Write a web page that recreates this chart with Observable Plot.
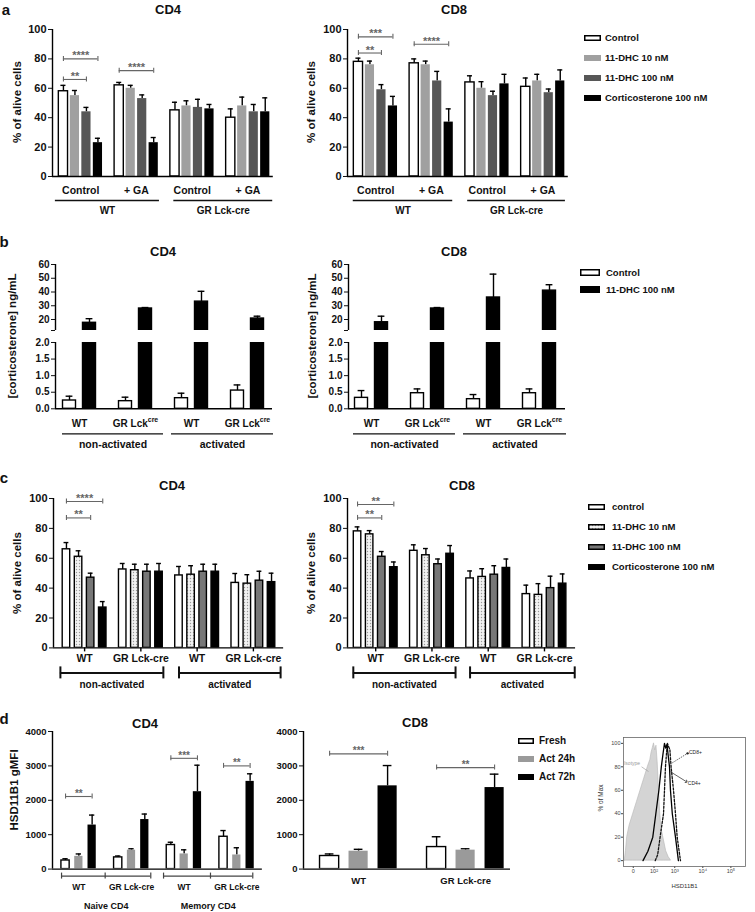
<!DOCTYPE html>
<html><head><meta charset="utf-8">
<script src="https://cdn.jsdelivr.net/npm/d3@7"></script>
<script src="https://cdn.jsdelivr.net/npm/@observablehq/plot@0.6"></script>
<style>
body{margin:0;background:#fff;}
#fig{position:relative;width:755px;height:912px;overflow:hidden;font-family:"Liberation Sans",Arial,Helvetica,sans-serif;color:#111;}
.t{position:absolute;white-space:nowrap;line-height:1;}
</style></head><body>
<svg width="0" height="0" style="position:absolute"><defs><pattern id="dots" width="3" height="3" patternUnits="userSpaceOnUse"><rect width="3" height="3" fill="#f2f2f2"/><circle cx="1.5" cy="1.5" r="0.7" fill="#999"/></pattern></defs></svg>
<div id="fig"></div>
<script>
// ---------- Panel a ----------
const aSeries = ["Control","11-DHC 10 nM","11-DHC 100 nM","Corticosterone 100 nM"];
const aTreat = ["Control","+ GA","Control","+ GA"];
const aGeno = ["WT","GR Lck-cre"];
const aCD4 = [[58,55,44,23],[62,60,53,23],[45,48,47,46],[40,48,44,44]];
const aCD4err = [[4,3.5,3,3],[2,2,2.5,3.5],[5.5,3.5,5.5,3],[6,6,5,9.5]];
const aCD8 = [[78,76,59,48],[77,76,65,37],[64,60,55,63],[61,65,57,65]];
const aCD8err = [[2.5,2.5,3.5,6.5],[3,2.5,6.5,9],[4.5,4.5,3,6.5],[6,4.5,2.5,7.5]];
const aCD4sig = [[0,0,2,66,"**"],[0,0,3,80,"****"],[1,0,3,72,"****"]];
const aCD8sig = [[0,0,2,84,"**"],[0,0,3,95,"***"],[1,0,3,90,"****"]];
const pctTicks = [0,20,40,60,80,100];

// ---------- Panel b ----------
const bSeries = ["Control","11-DHC 100 nM"];
const bGeno = [["WT",""],["GR Lck","cre"],["WT",""],["GR Lck","cre"]];
const bState = ["non-activated","activated"];
const bCD4 = [[0.25,17.6],[0.23,28],[0.32,33],[0.55,20.7]];
const bCD4err = [[0.13,3],[0.12,0.7],[0.15,7.5],[0.17,1.7]];
const bCD8 = [[0.33,18],[0.47,28],[0.29,36],[0.47,41]];
const bCD8err = [[0.22,4.4],[0.13,0.7],[0.14,17],[0.13,4.3]];
const bTopTicks = [20,30,40,50,60];
const bLowTicks = [0,0.5,1,1.5,2];

// ---------- Panel c ----------
const cSeries = ["control","11-DHC 10 nM","11-DHC 100 nM","Corticosterone 100 nM"];
const cGeno = ["WT","GR Lck-cre","WT","GR Lck-cre"];
const cState = ["non-activated","activated"];
const cCD4 = [[66,61,47,27],[52.5,52,51,51],[48.5,49,51,51],[43.5,43,45,44]];
const cCD4err = [[4.5,4,3,4],[4,4,5,5.5],[6,6,5,5],[6.3,6,6.3,6]];
const cCD8 = [[78,76,61,54],[65,62,56,63],[46.5,47.5,49,53.5],[36,35.5,40,43]];
const cCD8err = [[3,2.5,3.5,3.5],[4,4.5,3.5,5.5],[5,5.5,6,6],[6,7.5,8,6.5]];
const cCD4sig = [[0,0,2,87,"**"],[0,0,3,98,"****"]];
const cCD8sig = [[0,0,2,87,"**"],[0,0,3,96,"**"]];

// ---------- Panel d ----------
const dSeries = ["Fresh","Act 24h","Act 72h"];
const dCD4geno = ["WT","GR Lck-cre","WT","GR Lck-cre"];
const dCD4subset = ["Naive CD4","Memory CD4"];
const dCD4 = [[250,370,1280],[340,550,1440],[700,440,2250],[940,410,2550]];
const dCD4err = [[50,70,290],[40,40,160],[80,120,770],[180,210,220]];
const dCD4sig = [[0,0,2,2110,"**"],[2,0,2,3220,"***"],[3,0,2,3000,"**"]];
const dCD8geno = ["WT","GR Lck-cre"];
const dCD8 = [[380,520,2420],[640,550,2370]];
const dCD8err = [[60,55,590],[300,40,390]];
const dCD8sig = [[0,0,2,3350,"***"],[1,0,2,2950,"**"]];
const dTicks = [0,1000,2000,3000,4000];

// ---------- Flow histogram ----------
const histTicksX = [8,25,42,65,88];
const histTickLabels = ["0","10²","10³","10⁴","10⁵"];
const histTicksY = [0,20,40,60,80,100];
const isoX = [1,2,3,5,8,11,14,17,20,22,23,24,25,26,27,28,29,30,31,33,35,37,39];
const isoY = [0,8,20,30,40,50,60,70,80,86,92,96,100,94,98,84,62,42,28,18,8,3,0];
const cd4X = [16,20,24,26.5,29,31,32.5,33.6,34.6,35.6,37.7,38.5,40,42.6,45];
const cd4Y = [0,8,20,40,60,80,92,100,96,99,80,60,40,20,0];
const cd8X = [26,28,30,32.8,33.6,34.4,35.3,36,37,38,39,41,42.6,44,46.7];
const cd8Y = [0,5,20,40,60,80,92,100,97,95,80,60,40,20,0];
const histNotes = ["Isotype","CD8+","CD4+"];
const histNoteX = [7,59,58];
const histNoteY = [83,92,66];

// ---------- helpers ----------
const FONT = '"Liberation Sans", Arial, Helvetica, sans-serif';
const fig = document.getElementById("fig");
const ctx = document.createElement("canvas").getContext("2d");
function textW(s, size){ ctx.font = `bold ${size}px "Liberation Sans"`; return ctx.measureText(s).width; }

function txt(s, x, y, o = {}) {
  const {size = 12, weight = "bold", anchor = "middle", rotate = 0, color = "#111"} = o;
  const d = document.createElement("div");
  d.className = "t"; d.textContent = s;
  d.style.left = x + "px"; d.style.top = y + "px";
  d.style.fontSize = size + "px"; d.style.fontWeight = weight; d.style.color = color;
  const tx = anchor === "middle" ? "-50%" : anchor === "end" ? "-100%" : "0";
  d.style.transform = `translate(${tx},-50%)` + (rotate ? ` rotate(${rotate}deg)` : "");
  fig.appendChild(d);
}
function place(svg, left, top) {
  svg.style.position = "absolute"; svg.style.left = left + "px"; svg.style.top = top + "px";
  fig.appendChild(svg);
}
function legend(names, fills, strokes, x, ys, swW, swH, textX, size) {
  names.forEach((name, i) => {
    const d = document.createElement("div");
    d.style.cssText = `position:absolute;left:${x}px;top:${ys[i] - swH/2}px;width:${swW}px;height:${swH}px`;
    d.innerHTML = `<svg width="${swW}" height="${swH}" style="display:block"><rect x="0.75" y="0.75" width="${swW-1.5}" height="${swH-1.5}" fill="${fills[i]}" stroke="${strokes[i] === "none" ? fills[i] : strokes[i]}" stroke-width="1.5"/></svg>`;
    fig.appendChild(d);
    txt(name, textX, ys[i], {size, anchor: "start"});
  });
}

function barChart(c) {
  const nS = c.fills.length, step = nS + c.gap;
  const pos = (g, s) => g * step + s;
  const rows = [];
  c.means.forEach((grp, g) => grp.forEach((v, s) => rows.push({g, s, v, e: c.errs[g][s], x: pos(g, s)})));
  const nG = c.means.length;
  const last = pos(nG - 1, nS - 1);
  const xDom = [-c.pad[0], last + c.pad[1]];
  const plotW = (xDom[1] - xDom[0]) * c.ppu;
  const plotH = c.bottom - c.top;
  const [y0, y1] = c.yDomain;
  const u = px => px * (y1 - y0) / plotH;
  const ml = 50, mr = 8, mt = c.mt ?? 14, mb = c.mb ?? 50;
  const sw = c.sw ?? 1.4;
  const errRows = rows.filter(d => d.e > 0 && d.v >= y0 && d.v <= y1);
  const barRows = rows.filter(d => d.v > y0);
  const marks = [];
  marks.push(Plot.ruleX(errRows, {x: "x", y1: "v", y2: d => d.v + d.e, stroke: "#000", strokeWidth: sw}));
  marks.push(Plot.ruleY(errRows, {x1: d => d.x - c.cap, x2: d => d.x + c.cap, y: d => d.v + d.e, stroke: "#000", strokeWidth: sw}));
  marks.push(Plot.rectY(barRows, {x1: d => d.x - c.bw/2, x2: d => d.x + c.bw/2, y1: () => y0, y2: "v",
    fill: d => c.fills[d.s], stroke: d => c.strokes[d.s], strokeWidth: sw, clip: true}));
  marks.push(Plot.ruleX([xDom[0]], {stroke: "#000", strokeWidth: sw}));
  if (c.xAxis !== false) marks.push(Plot.ruleY([y0], {stroke: "#000", strokeWidth: sw}));
  if (c.xTicks) marks.push(Plot.ruleX(d3.range(nG), {x: g => pos(g, (nS - 1)/2), y1: () => y0, y2: () => y0 - u(4), stroke: "#000", strokeWidth: sw}));
  if (c.groupLabels) {
    const fs = c.groupLabelSize, ss = fs * 0.7;
    const G = c.groupLabels.map((t, g) => {
      const [m, s] = Array.isArray(t) ? t : [t, ""];
      const wm = textW(m, fs), ws = s ? textW(s, ss) : 0;
      return {m, s, xe: pos(g, (nS - 1)/2) + (wm - ws) / 2 / c.ppu};
    });
    marks.push(Plot.text(G, {x: "xe", y: () => y0 - u(c.groupLabelOff), text: "m", textAnchor: "end", fontSize: fs, fontWeight: "bold", fill: "#111"}));
    const Gs = G.filter(d => d.s);
    if (Gs.length) marks.push(Plot.text(Gs, {x: "xe", y: () => y0 - u(c.groupLabelOff - fs*0.4), text: "s", textAnchor: "start", fontSize: ss, fontWeight: "bold", fill: "#111"}));
  }
  if (c.spans) {
    const S = c.spans.map((label, i) => ({label,
      x1: pos(2*i, 0) - c.spanPads[i][0], x2: pos(2*i + 1, nS - 1) + c.spanPads[i][1],
      xm: (pos(2*i, nS - 1) + pos(2*i + 1, 0)) / 2}));
    const ly = () => y0 - u(c.spanLineOff);
    const col = c.spanColor ?? "#111";
    marks.push(Plot.ruleY(S, {x1: "x1", x2: "x2", y: ly, stroke: col, strokeWidth: c.spanSW}));
    if (c.spanCap) {
      const cy1 = () => y0 - u(c.spanLineOff - c.spanCap), cy2 = () => y0 - u(c.spanLineOff + c.spanCap);
      marks.push(Plot.ruleX(S, {x: "x1", y1: cy1, y2: cy2, stroke: col, strokeWidth: c.spanSW}));
      marks.push(Plot.ruleX(S, {x: "x2", y1: cy1, y2: cy2, stroke: col, strokeWidth: c.spanSW}));
      if (c.spanMid) marks.push(Plot.ruleX(S, {x: "xm", y1: cy1, y2: cy2, stroke: col, strokeWidth: c.spanSW}));
    }
    marks.push(Plot.text(S, {x: d => (d.x1 + d.x2) / 2, y: () => y0 - u(c.spanTextOff), text: "label", fontSize: c.spanTextSize, fontWeight: "bold", fill: "#111"}));
  }
  if (c.sig) {
    const S = c.sig.map(([g, s1, s2, y, label]) => ({x1: pos(g, s1), x2: pos(g, s2), y, label}));
    const sc = c.sigColor;
    marks.push(Plot.ruleY(S, {x1: "x1", x2: "x2", y: "y", stroke: sc, strokeWidth: 1.1}));
    marks.push(Plot.ruleX(S, {x: "x1", y1: d => d.y - u(2.5), y2: d => d.y + u(2.5), stroke: sc, strokeWidth: 1.1}));
    marks.push(Plot.ruleX(S, {x: "x2", y1: d => d.y - u(2.5), y2: d => d.y + u(2.5), stroke: sc, strokeWidth: 1.1}));
    marks.push(Plot.text(S, {x: d => (d.x1 + d.x2) / 2, y: d => d.y + u(c.starOff), text: "label", fontSize: c.starSize, fontWeight: "bold", fill: sc}));
  }
  const svg = Plot.plot({
    width: ml + plotW + mr, height: mt + plotH + mb,
    marginLeft: ml, marginRight: mr, marginTop: mt, marginBottom: mb,
    x: {domain: xDom, axis: null},
    y: {domain: c.yDomain, ticks: c.yTicks, tickFormat: c.tickFormat ?? (d => String(d)), tickSize: 4, tickPadding: 2, label: null},
    color: {type: "identity"},
    style: {fontFamily: FONT, fontWeight: "bold", fontSize: c.tickSize + "px", background: "transparent", color: "#111", overflow: "visible"},
    marks
  });
  place(svg, c.axisX - ml, c.top - mt);
}

// ---------- Panel a ----------
const aFills = ["#fff","#a0a0a0","#575757","#000"], aStrokes = ["#000","none","none","none"];
const A = {fills: aFills, strokes: aStrokes, gap: 0.85, bw: 0.8, cap: 0.22, ppu: 11.5, top: 29, bottom: 176,
  yDomain: [0,100], yTicks: pctTicks, tickSize: 11, groupLabels: aTreat, groupLabelOff: 14, groupLabelSize: 10.5,
  spans: aGeno, spanLineOff: 24, spanTextOff: 34, spanTextSize: 10, spanSW: 1.3, sigColor: "#666", starSize: 11, starOff: 3, mt: 24};
barChart({...A, means: aCD4, errs: aCD4err, sig: aCD4sig, axisX: 52, pad: [0.95, 0.7], spanPads: [[0.7,0.5],[0.1,0.65]]});
barChart({...A, means: aCD8, errs: aCD8err, sig: aCD8sig, axisX: 347, pad: [0.95, 0.7], spanPads: [[0.45,0.35],[0.2,0.45]]});
txt("a", 6, 9, {size: 15});
txt("CD4", 168, 9, {size: 13});
txt("CD8", 454, 9, {size: 13});
txt("% of alive cells", 18, 102, {size: 11.5, rotate: -90});
txt("% of alive cells", 312, 102, {size: 11.5, rotate: -90});
legend(aSeries, aFills, aStrokes, 584, [38,58,78,98], 17, 6, 605, 9.5);

// ---------- Panel b ----------
const bFills = ["#fff","#000"], bStrokes = ["#000","#000"];
const B = {fills: bFills, strokes: bStrokes, gap: 0.8, bw: 0.65, cap: 0.17, ppu: 20, tickSize: 10};
const bTop = {...B, top: 264, bottom: 330, yDomain: [12,60], yTicks: [12, ...bTopTicks], tickFormat: d => d === 12 ? "" : String(d), xAxis: false, mb: 8};
const bLow = {...B, top: 342, bottom: 408.3, yDomain: [0,2], yTicks: bLowTicks, tickFormat: d3.format(".1f"),
  groupLabels: bGeno, groupLabelOff: 15, groupLabelSize: 10, spans: bState, spanLineOff: 25, spanTextOff: 36, spanTextSize: 10.5, spanSW: 1.3};
barChart({...bTop, means: bCD4, errs: bCD4err, axisX: 55, pad: [0.7,0.75]});
barChart({...bLow, means: bCD4, errs: bCD4err, axisX: 55, pad: [0.7,0.75], spanPads: [[0.35,0.9],[0.5,0.8]]});
barChart({...bTop, means: bCD8, errs: bCD8err, axisX: 348, pad: [0.65,0.8]});
barChart({...bLow, means: bCD8, errs: bCD8err, axisX: 348, pad: [0.65,0.8], spanPads: [[0.4,0.9],[0.5,0.85]]});
txt("b", 4, 241, {size: 15});
txt("CD4", 163, 251, {size: 13});
txt("CD8", 454, 251, {size: 13});
txt("[corticosterone] ng/mL", 13, 336, {size: 11.5, rotate: -90});
txt("[corticosterone] ng/mL", 313, 336, {size: 11.5, rotate: -90});
legend(bSeries, bFills, bStrokes, 580, [272.5,289.5], 20, 7, 606, 9.5);

// ---------- Panel c ----------
const cFills = ["#fff","url(#dots)","#777","#000"], cStrokes = ["#000","#000","#000","#000"];
const C = {fills: cFills, strokes: cStrokes, gap: 0.65, bw: 0.62, cap: 0.2, ppu: 12.1, top: 498.3, bottom: 647.7,
  yDomain: [0,100], yTicks: pctTicks, tickSize: 11, xTicks: true, groupLabels: cGeno, groupLabelOff: 10.5, groupLabelSize: 10.5,
  spans: cState, spanLineOff: 25, spanTextOff: 36.5, spanTextSize: 10, spanSW: 2, spanCap: 6, sigColor: "#666", starSize: 11, starOff: 3};
barChart({...C, means: cCD4, errs: cCD4err, sig: cCD4sig, axisX: 53, pad: [1.07,1.0], spanPads: [[0.5,0.36],[0,0.75]]});
barChart({...C, means: cCD8, errs: cCD8err, sig: cCD8sig, axisX: 347, pad: [0.83,1.07], spanPads: [[0.35,0.45],[0,1.0]]});
txt("c", 4, 477, {size: 15});
txt("CD4", 172, 485, {size: 13});
txt("CD8", 462, 485, {size: 13});
txt("% of alive cells", 18, 573, {size: 11.5, rotate: -90});
txt("% of alive cells", 312, 573, {size: 11.5, rotate: -90});
legend(cSeries, cFills, cStrokes, 588, [507,527,547,567], 17, 6, 612, 9.5);

// ---------- Panel d ----------
const dFills = ["#fff","#9a9a9a","#000"], dStrokes = ["#000","none","none"];
const D = {fills: dFills, strokes: dStrokes, top: 730.7, bottom: 868.3, yDomain: [0,4000], yTicks: dTicks, tickSize: 9.5,
  sigColor: "#666", starSize: 10, starOff: 3};
barChart({...D, means: dCD4, errs: dCD4err, sig: dCD4sig, axisX: 52, gap: 0.96, bw: 0.62, cap: 0.2, ppu: 13.3, pad: [0.98,0.92],
  groupLabels: dCD4geno, groupLabelOff: 18, groupLabelSize: 8.5, spans: dCD4subset, spanLineOff: 7, spanTextOff: 37, spanTextSize: 9,
  spanSW: 1.2, spanCap: 3, spanMid: true, spanColor: "#444", spanPads: [[0.3,0.45],[0.55,0.2]]});
barChart({...D, means: dCD8, errs: dCD8err, sig: dCD8sig, axisX: 303, gap: 0.69, bw: 0.66, cap: 0.15, ppu: 29, pad: [0.9,0.55],
  groupLabels: dCD8geno, groupLabelOff: 12, groupLabelSize: 9.5});
txt("d", 4, 718, {size: 15});
txt("CD4", 145, 723, {size: 13});
txt("CD8", 415, 722, {size: 13});
txt("HSD11B1 gMFI", 15, 790, {size: 11.5, rotate: -90});
legend(dSeries, dFills, dStrokes, 518, [741,759,777], 16, 6, 539, 10);

// ---------- Flow histogram ----------
(function(){
  const ml = 33, mr = 8, mt = 12, mb = 32, plotW = 122, plotH = 129;
  const iso = isoX.map((x, i) => ({x, y: isoY[i]}));
  const c4 = cd4X.map((x, i) => ({x, y: cd4Y[i]}));
  const c8 = cd8X.map((x, i) => ({x, y: cd8Y[i]}));
  const notes = histNotes.map((t, i) => ({t, x: histNoteX[i], y: histNoteY[i]}));
  const svg = Plot.plot({
    width: ml + plotW + mr, height: mt + plotH + mb,
    marginLeft: ml, marginRight: mr, marginTop: mt, marginBottom: mb,
    x: {domain: [0,100], ticks: histTicksX, tickFormat: d => histTickLabels[histTicksX.indexOf(d)], tickSize: 2, tickPadding: 1, label: null},
    y: {domain: [-5,105], ticks: histTicksY, tickSize: 2, tickPadding: 1, label: null},
    style: {fontFamily: FONT, fontSize: "5.5px", color: "#444", background: "transparent", overflow: "visible"},
    marks: [
      Plot.areaY(iso, {x: "x", y: "y", fill: "#d4d4d4", stroke: "#b5b5b5", strokeWidth: 0.6}),
      Plot.line(c8, {x: "x", y: "y", stroke: "#111", strokeWidth: 1.3, strokeDasharray: "2.2,1.6"}),
      Plot.line(c4, {x: "x", y: "y", stroke: "#000", strokeWidth: 1.3}),
      Plot.frame({stroke: "#666", strokeWidth: 0.8}),
      Plot.link([notes[0]], {x1: 14.8, y1: 80, x2: 20.5, y2: 76, stroke: "#999", strokeWidth: 0.6}),
      Plot.link([notes[1]], {x1: 40, y1: 83.4, x2: 52.5, y2: 91.5, stroke: "#222", strokeWidth: 0.7, strokeDasharray: "1.5,1", markerEnd: "dot"}),
      Plot.link([notes[2]], {x1: 38.5, y1: 75.8, x2: 51.6, y2: 67.3, stroke: "#222", strokeWidth: 0.7, markerEnd: "arrow"}),
      Plot.text(notes, {x: "x", y: "y", text: "t", fontSize: 5, fill: (d, i) => i === 0 ? "#9a9a9a" : "#222"}),
      Plot.text(["HSD11B1"], {frameAnchor: "bottom", dy: 21, fontSize: 6, fill: "#333"})
    ]
  });
  place(svg, 623 - ml, 737 - mt);
  txt("% of Max", 601, 798, {size: 6.5, weight: "normal", rotate: -90, color: "#333"});
})();
</script></body></html>
